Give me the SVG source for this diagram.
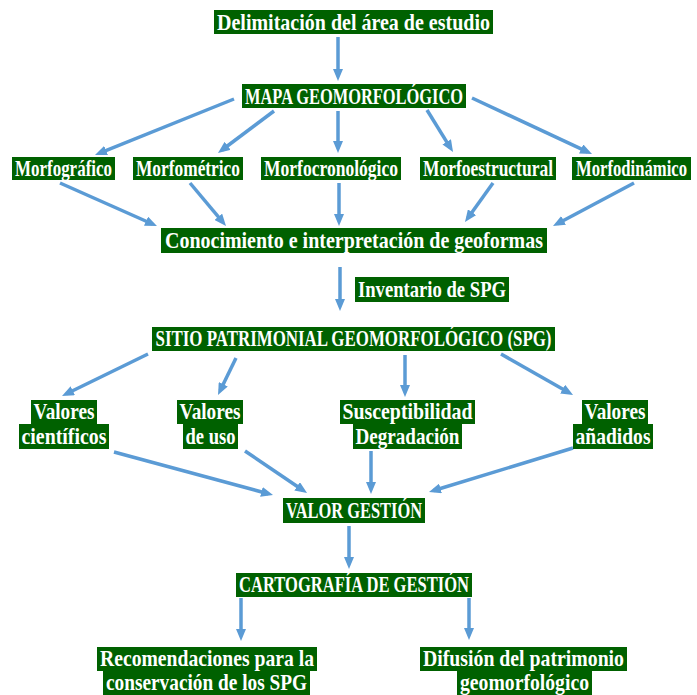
<svg xmlns="http://www.w3.org/2000/svg" width="697" height="695" viewBox="0 0 697 695">
<style>
.b{fill:#006100}
.t{font-family:"Liberation Serif","Times New Roman",serif;font-weight:bold;font-size:22.5px;fill:#ffffff;text-anchor:middle}
.c line{stroke:#5B9BD5;stroke-width:3.5;marker-end:url(#ah)}
</style>
<defs>
<marker id="ah" markerUnits="userSpaceOnUse" markerWidth="12" markerHeight="10" refX="7" refY="5" orient="auto">
<path d="M0,0 L12,5 L0,10 z" fill="#5B9BD5"/>
</marker>
</defs>
<rect width="697" height="695" fill="#ffffff"/>
<g id="connectors" class="c">
<line x1="338" y1="37" x2="338" y2="76"/>
<line x1="234" y1="99" x2="99.6" y2="153.1"/>
<line x1="274" y1="111" x2="222" y2="150"/>
<line x1="338" y1="111" x2="338" y2="148"/>
<line x1="427" y1="110" x2="450.4" y2="147.8"/>
<line x1="472" y1="98" x2="587.5" y2="151.9"/>
<line x1="60" y1="183" x2="152.4" y2="224"/>
<line x1="190" y1="183" x2="222.8" y2="222.2"/>
<line x1="339" y1="183" x2="339" y2="221"/>
<line x1="493" y1="183" x2="467.9" y2="217.9"/>
<line x1="634" y1="183" x2="557.4" y2="223.7"/>
<line x1="340" y1="267" x2="340" y2="306"/>
<line x1="148" y1="354" x2="66.5" y2="393.8"/>
<line x1="236" y1="358" x2="220.2" y2="390.5"/>
<line x1="405" y1="355" x2="405" y2="392"/>
<line x1="501" y1="354" x2="568.7" y2="392.5"/>
<line x1="114" y1="452" x2="268.2" y2="493.7"/>
<line x1="245" y1="451" x2="302.9" y2="490.2"/>
<line x1="371" y1="451" x2="371" y2="489"/>
<line x1="573" y1="448" x2="433.8" y2="490.5"/>
<line x1="349" y1="526" x2="349" y2="564"/>
<line x1="241" y1="598" x2="241" y2="636"/>
<line x1="469" y1="598" x2="469" y2="635"/>
</g>
<g id="n-delimitacion"><rect class="b" x="214" y="10" width="279" height="24"/><text class="t" x="353.5" y="29.5" textLength="273" lengthAdjust="spacingAndGlyphs">Delimitación del área de estudio</text></g>
<g id="n-mapa"><rect class="b" x="242" y="84" width="224" height="24"/><text class="t" x="354" y="103.5" textLength="218" lengthAdjust="spacingAndGlyphs">MAPA GEOMORFOLÓGICO</text></g>
<g id="n-morfografico"><rect class="b" x="12" y="157" width="103" height="23"/><text class="t" x="63.5" y="175.5" textLength="97" lengthAdjust="spacingAndGlyphs">Morfográfico</text></g>
<g id="n-morfometrico"><rect class="b" x="133" y="157" width="110" height="23"/><text class="t" x="188" y="175.5" textLength="104" lengthAdjust="spacingAndGlyphs">Morfométrico</text></g>
<g id="n-morfocronologico"><rect class="b" x="261" y="157" width="140" height="23"/><text class="t" x="331" y="175.5" textLength="134" lengthAdjust="spacingAndGlyphs">Morfocronológico</text></g>
<g id="n-morfoestructural"><rect class="b" x="420" y="157" width="136" height="23"/><text class="t" x="488" y="175.5" textLength="130" lengthAdjust="spacingAndGlyphs">Morfoestructural</text></g>
<g id="n-morfodinamico"><rect class="b" x="572" y="157" width="119" height="23"/><text class="t" x="631.5" y="175.5" textLength="111" lengthAdjust="spacingAndGlyphs">Morfodinámico</text></g>
<g id="n-conocimiento"><rect class="b" x="161" y="228" width="386" height="25"/><text class="t" x="354" y="247.5" textLength="378" lengthAdjust="spacingAndGlyphs">Conocimiento e interpretación de geoformas</text></g>
<g id="n-inventario"><rect class="b" x="355" y="277" width="154" height="25"/><text class="t" x="432" y="296.5" textLength="148" lengthAdjust="spacingAndGlyphs">Inventario de SPG</text></g>
<g id="n-sitio"><rect class="b" x="152" y="327" width="403" height="24"/><text class="t" x="353.5" y="346" textLength="396" lengthAdjust="spacingAndGlyphs">SITIO PATRIMONIAL GEOMORFOLÓGICO (SPG)</text></g>
<g id="n-valores-cientificos"><rect class="b" x="31" y="400" width="66" height="24"/><rect class="b" x="19" y="424" width="90" height="25"/><text class="t" x="64" y="419" textLength="61" lengthAdjust="spacingAndGlyphs">Valores</text><text class="t" x="64" y="444" textLength="85" lengthAdjust="spacingAndGlyphs">científicos</text></g>
<g id="n-valores-uso"><rect class="b" x="177" y="400" width="66" height="24"/><rect class="b" x="183" y="424" width="55" height="25"/><text class="t" x="210" y="419" textLength="61" lengthAdjust="spacingAndGlyphs">Valores</text><text class="t" x="210.5" y="444" textLength="50" lengthAdjust="spacingAndGlyphs">de uso</text></g>
<g id="n-susceptibilidad"><rect class="b" x="340" y="400" width="135" height="24"/><rect class="b" x="353" y="424" width="109" height="25"/><text class="t" x="407.5" y="419" textLength="130" lengthAdjust="spacingAndGlyphs">Susceptibilidad</text><text class="t" x="407.5" y="444" textLength="104" lengthAdjust="spacingAndGlyphs">Degradación</text></g>
<g id="n-valores-anadidos"><rect class="b" x="582" y="400" width="66" height="24"/><rect class="b" x="573" y="424" width="80" height="25"/><text class="t" x="615" y="419" textLength="61" lengthAdjust="spacingAndGlyphs">Valores</text><text class="t" x="613" y="444" textLength="75" lengthAdjust="spacingAndGlyphs">añadidos</text></g>
<g id="n-valor-gestion"><rect class="b" x="283" y="498" width="142" height="25"/><text class="t" x="354" y="517.5" textLength="136" lengthAdjust="spacingAndGlyphs">VALOR GESTIÓN</text></g>
<g id="n-cartografia"><rect class="b" x="236" y="573" width="236" height="24"/><text class="t" x="354" y="592" textLength="230" lengthAdjust="spacingAndGlyphs">CARTOGRAFÍA DE GESTIÓN</text></g>
<g id="n-recomendaciones"><rect class="b" x="97" y="647" width="220" height="24"/><rect class="b" x="103" y="671" width="207" height="24"/><text class="t" x="207" y="666" textLength="214" lengthAdjust="spacingAndGlyphs">Recomendaciones para la</text><text class="t" x="206.5" y="690" textLength="201" lengthAdjust="spacingAndGlyphs">conservación de los SPG</text></g>
<g id="n-difusion"><rect class="b" x="420" y="647" width="207" height="24"/><rect class="b" x="457" y="671" width="135" height="24"/><text class="t" x="523.5" y="666" textLength="201" lengthAdjust="spacingAndGlyphs">Difusión del patrimonio</text><text class="t" x="524.5" y="690" textLength="129" lengthAdjust="spacingAndGlyphs">geomorfológico</text></g>
</svg>
